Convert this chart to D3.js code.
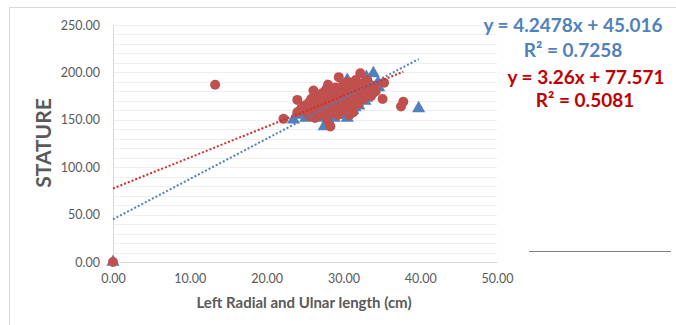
<!DOCTYPE html>
<html>
<head>
<meta charset="utf-8">
<script src="https://cdn.jsdelivr.net/npm/d3@7/dist/d3.min.js"></script>
<style>
  html, body { margin: 0; padding: 0; background: #fff; }
  svg { display: block; }
</style>
</head>
<body>
<svg id="chart" width="676" height="325"></svg>
<script>
// ---- data ----
const xTicks = [0, 10, 20, 30, 40, 50];
const yTicks = [0, 50, 100, 150, 200, 250];
const xLabel = "Left Radial and Ulnar length (cm)";
const yLabel = "STATURE";

// blue triangles (series 1)
const blueX = [0, 39.8, 33.9, 23.5, 25.1, 27.5, 29.2, 30.5, 31.2, 32.5, 33.6, 34.5, 26.0, 27.0, 28.0, 28.8, 29.8, 30.0, 31.5, 32.0, 32.8, 33.0, 33.5, 34.0, 34.2, 28.0, 29.0, 30.0, 31.0, 32.0, 27.8, 30.5, 33.0, 26.5, 25.0, 24.2, 29.5, 31.8, 33.2, 34.6];
const blueY = [0, 162, 199, 150, 152, 143, 155, 152, 160, 178, 183, 189, 155, 152, 150, 152, 156, 158, 163, 165, 170, 173, 178, 181, 185, 165, 170, 175, 178, 180, 185, 192, 195, 160, 158, 155, 161, 168, 176, 184];

// red circles (series 2)
const redX = [0, 13.3, 22.2, 37.5, 37.8, 35.3, 35.1, 28.3,
  24.0, 24.0, 24.5, 25.0, 25.0, 25.3, 25.5, 25.8, 26.0, 26.1, 26.2, 26.4, 26.5, 26.7, 26.8, 27.0, 27.0, 27.2, 27.3, 27.5, 27.6, 27.8,
  28.0, 28.0, 28.1, 28.2, 28.4, 28.5, 28.6, 28.7, 28.8, 29.0, 29.0, 29.1, 29.2, 29.4, 29.4, 29.5, 29.6, 29.8, 29.9, 30.0,
  30.0, 30.1, 30.2, 30.3, 30.5, 30.5, 30.6, 30.7, 30.8, 31.0, 31.0, 31.1, 31.2, 31.4, 31.5, 31.6, 31.7, 31.8, 32.0, 32.0,
  32.2, 32.2, 32.3, 32.5, 32.6, 32.8, 33.0, 33.1, 33.2, 33.4, 33.6, 34.0, 34.2, 27.9, 26.3, 25.6, 29.3, 31.3, 30.8, 24.8];
const redY = [0, 187, 151, 164, 169, 189, 172, 143,
  158, 171, 162, 160, 165, 157, 168, 172, 162, 181, 175, 158, 166, 170, 155, 160, 173, 178, 164, 168, 158, 182,
  187, 162, 171, 176, 166, 158, 180, 170, 162, 174, 184, 167, 178, 195, 160, 171, 182, 165, 176, 188,
  170, 160, 180, 174, 185, 166, 190, 177, 170, 183, 163, 175, 188, 180, 170, 192, 176, 185, 167, 182,
  199, 174, 188, 179, 172, 185, 190, 192, 178, 184, 175, 186, 180, 150, 152, 154, 155, 158, 155, 163];

// trendline parameters (from the chart's labels)
const blueFit = { slope: 4.2478, intercept: 45.016, r2: 0.7258, xRange: [0, 39.8] };
const redFit  = { slope: 3.26,   intercept: 77.571, r2: 0.5081, xRange: [0, 37.8] };
const gridStep = 10;

// ---- drawing ----
const svg = d3.select("#chart");
const font = "Lato, 'Open Sans', sans-serif";
const mLeft = 113, mRight = 497, mTop = 25, mBottom = 262;

const x = d3.scaleLinear().domain([0, 50]).range([mLeft, mRight]);
const y = d3.scaleLinear().domain([0, 250]).range([mBottom, mTop]);

// chart border
svg.append("rect").attr("x", 9.5).attr("y", 7.5).attr("width", 720).attr("height", 400)
  .attr("fill", "none").attr("stroke", "#d9d9d9");

// gridlines
const gridVals = d3.range(0, 250 + 0.001, gridStep);
svg.append("g").selectAll("line").data(gridVals.filter(v => v > 0)).join("line")
  .attr("x1", mLeft).attr("x2", mRight)
  .attr("y1", d => Math.round(y(d)) + 0.5).attr("y2", d => Math.round(y(d)) + 0.5)
  .attr("stroke", "#eeeeee").attr("stroke-width", 1);

// axes
const xAxis = d3.axisBottom(x).tickValues(xTicks).tickFormat(d3.format(".2f")).tickSize(0).tickPadding(12);
const gx = svg.append("g").attr("transform", `translate(0,${mBottom})`).call(xAxis);
gx.select(".domain").attr("stroke", "#d9d9d9");
gx.selectAll("text").attr("fill", "#595959").style("font-family", font).style("font-size", "12.5px");

const yAxis = d3.axisLeft(y).tickValues(yTicks).tickFormat(d3.format(".2f")).tickSize(0).tickPadding(13);
const gy = svg.append("g").attr("transform", `translate(${mLeft},0)`).call(yAxis);
gy.select(".domain").attr("stroke", "#d9d9d9");
gy.selectAll("text").attr("fill", "#595959").style("font-family", font).style("font-size", "12.5px");

// axis titles
svg.append("text").attr("x", 304).attr("y", 308)
  .attr("text-anchor", "middle").attr("fill", "#595959")
  .style("font-family", font).style("font-weight", "bold").style("font-size", "15px")
  .text(xLabel);
svg.append("text").attr("transform", "translate(51,143) rotate(-90)")
  .attr("text-anchor", "middle").attr("fill", "#595959")
  .style("font-family", font).style("font-weight", "bold").style("font-size", "21px")
  .text(yLabel);

// blue triangles
const blueData = blueX.map((d, i) => [d, blueY[i]]);
const redData = redX.map((d, i) => [d, redY[i]]);
const tri = d3.symbol().type(d3.symbolTriangle).size(75);
svg.append("g").selectAll("path").data(blueData).join("path")
  .attr("d", tri)
  .attr("transform", d => `translate(${x(d[0])},${y(d[1])})`)
  .attr("fill", "#4f81bd");

// red circles
svg.append("g").selectAll("circle").data(redData).join("circle")
  .attr("cx", d => x(d[0])).attr("cy", d => y(d[1])).attr("r", 5)
  .attr("fill", "#c0504d");

// trendlines
function trend(fit, color) {
  const pts = fit.xRange.map(v => [v, fit.slope * v + fit.intercept]);
  svg.append("line")
    .attr("x1", x(pts[0][0])).attr("y1", y(pts[0][1]))
    .attr("x2", x(pts[1][0])).attr("y2", y(pts[1][1]))
    .attr("stroke", color).attr("stroke-width", 2)
    .attr("stroke-dasharray", "2,2");
}
trend(blueFit, "#4f81bd");
trend(redFit, "#d0302d");

// equation labels
const eq = [
  { t: "y = 4.2478x + 45.016", cx: 573, cy: 25, c: "#4f81bd" },
  { t: "R² = 0.7258", cx: 573, cy: 50, c: "#4f81bd" },
  { t: "y = 3.26x + 77.571", cx: 586, cy: 77, c: "#c00000" },
  { t: "R² = 0.5081", cx: 585, cy: 100, c: "#c00000" }
];
svg.append("g").selectAll("text").data(eq).join("text")
  .attr("x", d => d.cx).attr("y", d => d.cy).attr("dy", "0.35em")
  .attr("text-anchor", "middle").attr("fill", d => d.c)
  .style("font-family", font).style("font-weight", "bold").style("font-size", "19px")
  .text(d => d.t);

// stray line at bottom right
svg.append("line").attr("x1", 529).attr("x2", 671).attr("y1", 251.5).attr("y2", 251.5)
  .attr("stroke", "#7f7f7f").attr("stroke-width", 1);
</script>
</body>
</html>
